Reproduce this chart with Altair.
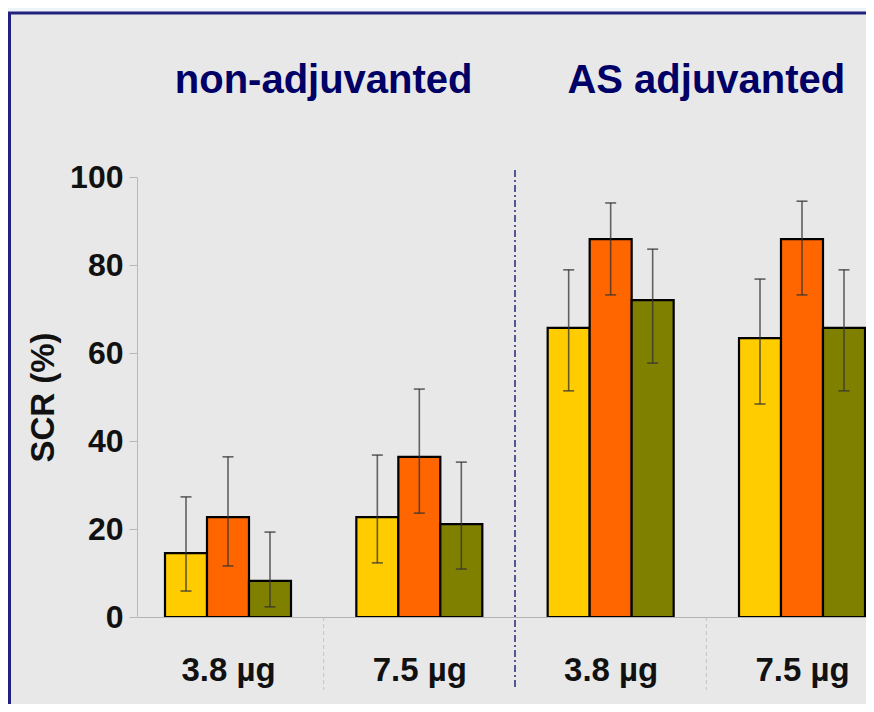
import json
import altair as alt
import pandas as pd

# ---------------- data ----------------
doses = ["3.8 µg", "7.5 µg", "3.8 µg", "7.5 µg"]
sections = ["non-adjuvanted", "AS adjuvanted"]
series = ["Series 1", "Series 2", "Series 3"]
colors = ["#FFCC00", "#FF6600", "#808000"]

values = [[14.5, 22.7, 8.2], [22.7, 36.4, 21.1], [65.7, 85.9, 72.0], [63.4, 85.9, 65.7]]
lower = [[5.9, 11.6, 2.3], [12.3, 23.6, 10.9], [51.4, 73.2, 57.7], [48.4, 73.2, 51.4]]
upper = [[27.3, 36.4, 19.3], [36.8, 51.8, 35.2], [78.9, 94.1, 83.6], [76.8, 94.5, 78.9]]
y_ticks = [0, 20, 40, 60, 80, 100]

rows = []
for g in range(len(doses)):
    for s in range(len(series)):
        rows.append({"g": g, "s": s, "series": series[s], "value": values[g][s],
                     "lo": lower[g][s], "hi": upper[g][s]})
df = pd.DataFrame(rows)
sec_df = pd.DataFrame({"i": list(range(len(sections))), "label": sections})
sep_df = pd.DataFrame({"k": [0, 1, 2]})

BW = 0.2195  # bar width in group units

FONT = "Liberation Sans"
xscale = alt.Scale(domain=[-0.4756, 3.3345], nice=False, zero=False)
yscale = alt.Scale(domain=[0, 100], nice=False)

xaxis = alt.Axis(values=[0, 1, 2, 3], labelExpr=f"{json.dumps(doses)}[datum.value]",
                 title=None, ticks=False, grid=False, domainColor="#b4b4b4", domainWidth=1,
                 labelFont=FONT, labelFontSize=33, labelFontWeight="bold", labelColor="#111111",
                 labelPadding=37, labelFlush=False, zindex=1)
yaxis = alt.Axis(values=y_ticks, title="SCR (%)", grid=False, domainColor="#b8b8b8",
                 tickColor="#b8b8b8", tickSize=8, labelFont=FONT, labelFontSize=32,
                 labelFontWeight="bold", labelColor="#111111", labelPadding=6,
                 titleFont=FONT, titleFontSize=33, titleFontWeight="bold", titleColor="#111111",
                 titleAngle=270, titleX=-94, titleBaseline="middle", zindex=1)


def X(field):
    return alt.X(field, type="quantitative", scale=xscale, axis=xaxis)


def Y(field):
    return alt.Y(field, type="quantitative", scale=yscale, axis=yaxis)


panel = alt.Chart(pd.DataFrame({"k": [0]})).mark_rect(
    fill="#e8e8e8", stroke="#22227e", strokeWidth=3
).encode(x=alt.value(-127.5), x2=alt.value(780), y=alt.value(-164), y2=alt.value(580))

side_seps = alt.Chart(sep_df).transform_filter("datum.k != 1").transform_calculate(
    pos="datum.k + 0.5"
).mark_rule(color="#c4c4c4", strokeDash=[4, 3], strokeWidth=1).encode(
    x=X("pos"), y=alt.value(440), y2=alt.value(513))

mid_sep = alt.Chart(sep_df).transform_filter("datum.k == 1").transform_calculate(
    pos="datum.k + 0.5"
).mark_rule(color="#3c3c86", strokeDash=[7, 3, 2, 3], strokeWidth=2, opacity=0.85).encode(
    x=X("pos"), y=alt.value(-7), y2=alt.value(513))

base = alt.Chart(df).transform_calculate(
    x0=f"datum.g + (datum.s - 1.5) * {BW}",
    x1=f"datum.g + (datum.s - 0.5) * {BW}",
    xc=f"datum.g + (datum.s - 1) * {BW}",
)

bars = base.mark_rect(stroke="#000000", strokeWidth=2.2).encode(
    x=X("x0"), x2="x1:Q", y=Y("value"), y2=alt.datum(0),
    color=alt.Color("series:N", scale=alt.Scale(domain=series, range=colors), legend=None),
)

err = base.mark_rule(color="#333333", strokeWidth=1.6, opacity=0.75).encode(
    x=X("xc"), y=Y("lo"), y2="hi:Q")
cap_hi = base.mark_tick(color="#333333", orient="horizontal", size=11, thickness=1.6,
                        opacity=0.75).encode(x=X("xc"), y=Y("hi"))
cap_lo = base.mark_tick(color="#333333", orient="horizontal", size=11, thickness=1.6,
                        opacity=0.75).encode(x=X("xc"), y=Y("lo"))

titles = alt.Chart(sec_df).transform_calculate(xc="2 * datum.i + 0.5").mark_text(
    font=FONT, fontSize=40, fontWeight="bold", color="#000066", align="center",
    baseline="alphabetic"
).encode(x=X("xc"), y=alt.value(-84), text="label:N")

chart = alt.layer(panel, side_seps, mid_sep, bars, err, cap_hi, cap_lo, titles).properties(
    width=729, height=440, autosize="none",
    padding={"left": 129, "top": 169, "right": 0, "bottom": 87},
    background="#eef3f8",
).configure_view(strokeWidth=0)

chart.save("out.html", embed_options={"renderer": "svg", "actions": False})
